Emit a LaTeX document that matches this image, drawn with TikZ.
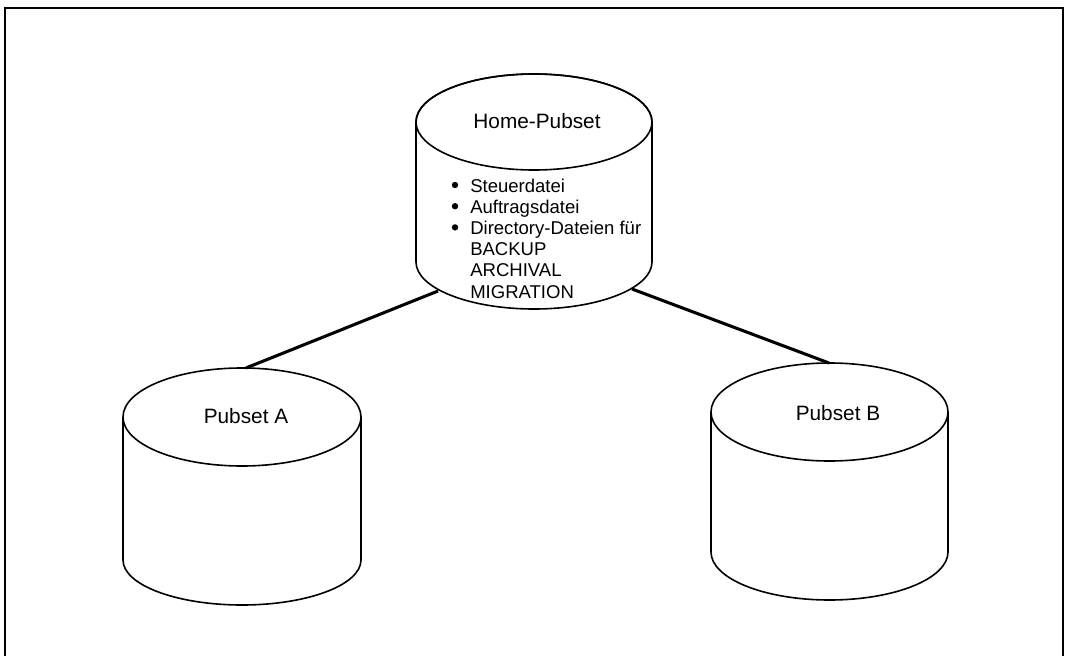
\documentclass[tikz,border=0pt]{standalone}
\usepackage{fontspec}
\setmainfont{Liberation Sans}
\begin{document}
\begin{tikzpicture}[x=0.75pt,y=-0.75pt,
  cyl/.style={line width=1.2pt},
  conn/.style={line width=2.3pt},
  lbl/.style={anchor=base,inner sep=0pt,font=\fontsize{15.6}{18}\selectfont},
  item/.style={anchor=base west,inner sep=0pt,font=\fontsize{13.9}{16}\selectfont},
  bul/.style={fill=black,draw=none}]
\useasboundingbox (0,0) rectangle (1067,656);
% frame
\draw[line width=0.9pt] (5,660) -- (5,8) -- (1063,8) -- (1063,660);

% Home-Pubset cylinder
\draw[cyl,fill=white] (416,262) -- (416,122) arc[start angle=180,end angle=360,x radius=118,y radius=48] -- (652,262)
  arc[start angle=0,end angle=180,x radius=118,y radius=47] -- cycle;
\draw[cyl] (534,122) ellipse[x radius=118,y radius=48];

% Pubset A cylinder
\draw[cyl] (123,560) -- (123,417) (361,417) -- (361,560);
\draw[cyl] (123,560) arc[start angle=180,end angle=0,x radius=119,y radius=45];
\draw[cyl] (242,417) ellipse[x radius=119,y radius=49];

% Pubset B cylinder
\draw[cyl] (711,552) -- (711,412) (948,412) -- (948,552);
\draw[cyl] (711,552) arc[start angle=180,end angle=0,x radius=118.5,y radius=48];
\draw[cyl] (829.5,412) ellipse[x radius=118.5,y radius=49];

% labels
\node[lbl] (home) at (537,129) {Home-Pubset};
\node[lbl] (pa) at (246,423) {Pubset A};
\node[lbl] (pb) at (838,420) {Pubset B};

\node[item] (i1) at (470,192) {Steuerdatei};
\node[item] (i2) at (470,213.2) {Auftragsdatei};
\node[item] (i3) at (470,234.4) {Directory-Dateien für};
\node[item] (i4) at (470,255.6) {BACKUP};
\node[item] (i5) at (470,276.8) {ARCHIVAL};
\node[item] (i6) at (470,298) {MIGRATION};
\fill[bul] (455,185) circle[radius=3.2];
\fill[bul] (455,206.2) circle[radius=3.2];
\fill[bul] (455,227.4) circle[radius=3.2];

% connectors
\coordinate (hA) at (438,291);
\coordinate (hB) at (632,289);
\coordinate (tA) at (246,368);
\coordinate (tB) at (829,363);
\draw[conn] (hA) -- (tA);
\draw[conn] (hB) -- (tB);
\end{tikzpicture}
\end{document}
